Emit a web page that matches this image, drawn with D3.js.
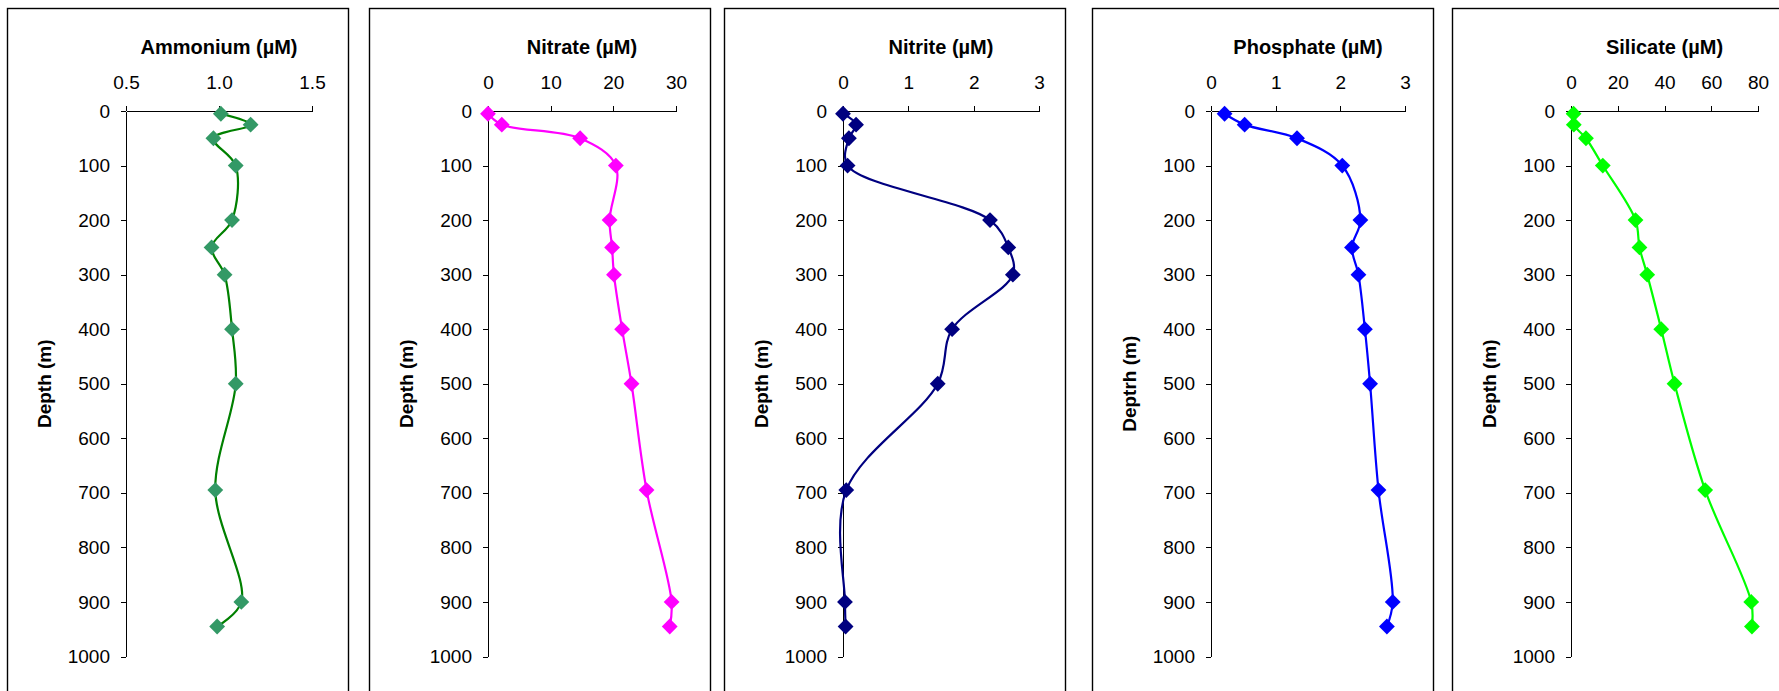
<!DOCTYPE html>
<html lang="en">
<head>
    <meta charset="UTF-8">
    <title>Nutrient Depth Profiles</title>
    <script src="https://d3js.org/d3.v7.min.js"></script>
    <style>
        body {
            margin: 0;
            background-color: #ffffff;
            font-family: 'Liberation Sans', Arial, sans-serif;
        }
        .axis path, .axis line {
            stroke: #000;
            shape-rendering: crispEdges;
        }
        .axis text {
            font-size: 19px;
            fill: #000;
            font-family: 'Liberation Sans', Arial, sans-serif;
        }
        .title, .ylabel {
            font-size: 19px;
            font-weight: bold;
            fill: #000;
        }
        .title {
            font-size: 20px;
        }
    </style>
</head>
<body>
    <div id="chart"></div>
    <script>
        // Sampling depths (m) and measured values, read from the profiles
        const depths    = [5, 25, 50, 100, 200, 250, 300, 400, 500, 695, 900, 945];
        const ammonium  = [1.01, 1.17, 0.97, 1.09, 1.07, 0.96, 1.03, 1.07, 1.09, 0.98, 1.12, 0.99];
        const nitrate   = [0.0, 2.2, 14.7, 20.4, 19.4, 19.8, 20.1, 21.4, 22.9, 25.3, 29.3, 29.0];
        const nitrite   = [0.0, 0.2, 0.09, 0.07, 2.25, 2.53, 2.60, 1.67, 1.45, 0.05, 0.03, 0.04];
        const phosphate = [0.21, 0.52, 1.33, 2.03, 2.31, 2.18, 2.28, 2.38, 2.46, 2.59, 2.81, 2.72];
        const silicate  = [1.1, 1.2, 6.4, 13.6, 27.6, 29.3, 32.6, 38.6, 44.3, 57.4, 77.1, 77.4];

        // Tick labels
        const depthTicks     = [0, 100, 200, 300, 400, 500, 600, 700, 800, 900, 1000];
        const ammoniumTicks  = [0.5, 1.0, 1.5];
        const nitrateTicks   = [0, 10, 20, 30];
        const nitriteTicks   = [0, 1, 2, 3];
        const phosphateTicks = [0, 1, 2, 3];
        const silicateTicks  = [0, 20, 40, 60, 80];

        const panels = [
            {title: "Ammonium (µM)",  yLabel: "Depth (m)",  values: ammonium,  ticks: ammoniumTicks,  fmt: ".1f", line: "#008000", marker: "#339966"},
            {title: "Nitrate (µM)",   yLabel: "Depth (m)",  values: nitrate,   ticks: nitrateTicks,   fmt: "d",   line: "#ff00ff", marker: "#ff00ff"},
            {title: "Nitrite (µM)",   yLabel: "Depth (m)",  values: nitrite,   ticks: nitriteTicks,   fmt: "d",   line: "#000080", marker: "#000080"},
            {title: "Phosphate (µM)", yLabel: "Deptrh (m)", values: phosphate, ticks: phosphateTicks, fmt: "d",   line: "#0000ff", marker: "#0000ff"},
            {title: "Silicate (µM)",  yLabel: "Depth (m)",  values: silicate,  ticks: silicateTicks,  fmt: "d",   line: "#00ff00", marker: "#00ff00"}
        ];

        // Layout of the five framed panels
        const W = 1779, H = 691;
        const frameLeft = [7, 369, 724, 1092, 1452];
        const frameWidth = 341, frameTop = 8;
        const plotOffset = 119;
        const plotWidth = [186, 188, 196, 194, 187];
        const plotTop = 111, plotBottom = 656.5;

        const svg = d3.select("#chart")
            .append("svg")
            .attr("width", W)
            .attr("height", H);

        const y = d3.scaleLinear()
            .domain([0, 1000])
            .range([plotTop, plotBottom]);

        panels.forEach((p, i) => {
            const left = frameLeft[i];
            const x0 = left + plotOffset;

            // panel frame
            svg.append("rect")
                .attr("x", left + 0.5)
                .attr("y", frameTop + 0.5)
                .attr("width", frameWidth)
                .attr("height", H)
                .attr("fill", "none")
                .attr("stroke", "#000")
                .attr("stroke-width", 1.4);

            const x = d3.scaleLinear()
                .domain([p.ticks[0], p.ticks[p.ticks.length - 1]])
                .range([x0, x0 + plotWidth[i]]);

            // top axis
            svg.append("g")
                .attr("class", "axis")
                .attr("transform", `translate(0,${plotTop})`)
                .call(d3.axisTop(x)
                    .tickValues(p.ticks)
                    .tickFormat(d3.format(p.fmt))
                    .tickSize(5)
                    .tickSizeOuter(0)
                    .tickPadding(17));

            // depth axis
            svg.append("g")
                .attr("class", "axis")
                .attr("transform", `translate(${x0},0)`)
                .call(d3.axisLeft(y)
                    .tickValues(depthTicks)
                    .tickFormat(d3.format("d"))
                    .tickSize(5)
                    .tickSizeOuter(0)
                    .tickPadding(11));

            svg.selectAll(".axis .domain").attr("fill", "none");

            // titles
            svg.append("text")
                .attr("class", "title")
                .attr("x", x0 + plotWidth[i] / 2)
                .attr("y", 54)
                .attr("text-anchor", "middle")
                .text(p.title);

            svg.append("text")
                .attr("class", "ylabel")
                .attr("transform", `translate(${x0 - 82},${(plotTop + plotBottom) / 2}) rotate(-90)`)
                .attr("text-anchor", "middle")
                .attr("dy", "0.35em")
                .text(p.yLabel);

            const pts = depths.map((d, k) => ({depth: d, value: p.values[k]}));

            // smoothed profile line
            const line = d3.line()
                .x(d => x(d.value))
                .y(d => y(d.depth))
                .curve(d3.curveCatmullRom.alpha(0.5));

            svg.append("path")
                .datum(pts)
                .attr("d", line)
                .attr("fill", "none")
                .attr("stroke", p.line)
                .attr("stroke-width", 2.2);

            // diamond markers
            svg.append("g")
                .selectAll("path")
                .data(pts)
                .join("path")
                .attr("d", d3.symbol().type(d3.symbolSquare).size(125))
                .attr("transform", d => `translate(${x(d.value)},${y(d.depth)}) rotate(45)`)
                .attr("fill", p.marker);
        });
    </script>
</body>
</html>
